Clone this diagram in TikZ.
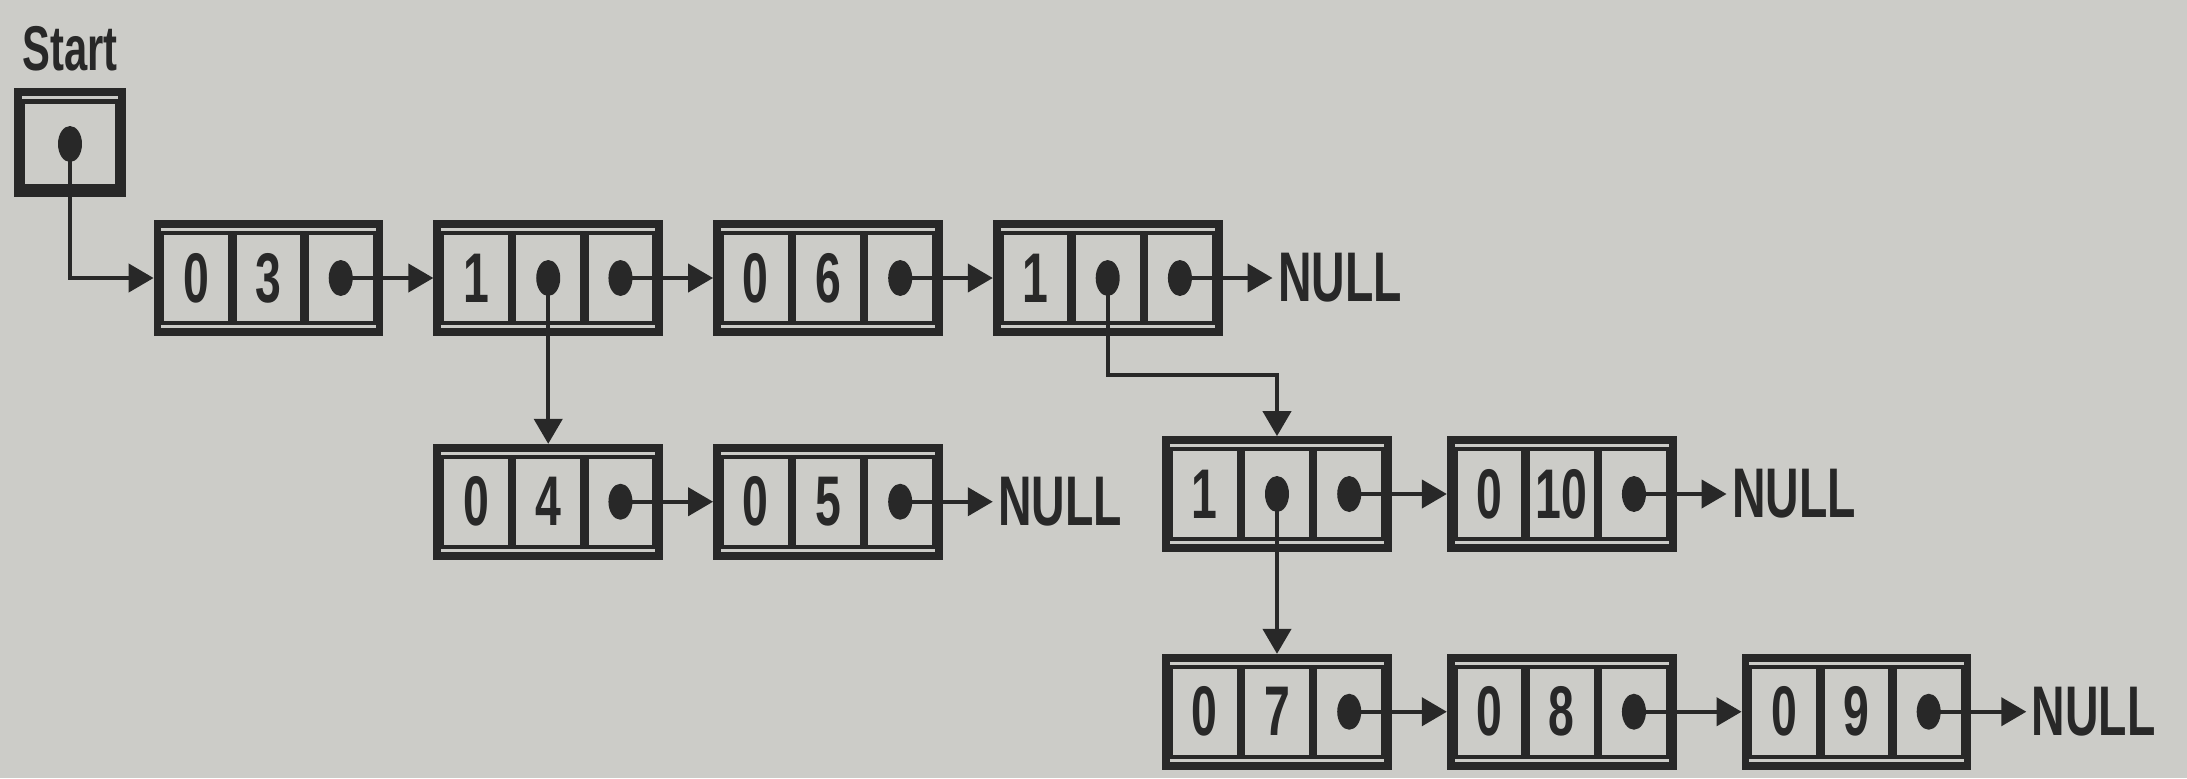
\documentclass[tikz,border=0pt]{standalone}
\usepackage{fontspec}
\setmainfont{Liberation Sans}[FakeStretch=0.66]
\usetikzlibrary{positioning,arrows.meta}

\definecolor{paper}{RGB}{204,204,200}
\definecolor{ink}{RGB}{40,40,40}

% tag, value and link field of one list node
\newcommand{\fields}[3]{%
  \node[field] (#1b) at (#1) {#3};
  \node[field] (#1a) [left=0cm of #1b] {#2};
  \node[field] (#1c) [right=0cm of #1b] {};
  \fill (#1c) ellipse (0.12 and 0.18);
}
\newcommand{\down}[1]{\fill (#1b) ellipse (0.12 and 0.18);}

\begin{document}
\begin{tikzpicture}[node distance=0.5cm, color=ink, line width=1.2pt,
    font=\fontsize{20}{24}\selectfont\bfseries,
    main/.style = {draw, minimum width=2.22cm, minimum height=1.08cm, line width=2.2pt},
    field/.style = {draw, minimum width=0.68cm, minimum height=0.9cm, inner sep=0pt},
    tail/.style = {inner sep=1pt},
    link/.style = {-{Triangle[length=0.25cm,width=0.28cm]}}]
\fill[paper] (0,0) rectangle (21.87,7.78);
\useasboundingbox (0,0) rectangle (21.87,7.78);

% start pointer
\node[anchor=base, font=\fontsize{18}{22}\selectfont\bfseries] (start) at (0.70,7.08) {Start};
\node[main, minimum width=1.04cm, minimum height=1.01cm] (0) at (0.70,6.355) {};
\node[field, minimum width=0.94cm, minimum height=0.85cm] (0a) at (0.70,6.34) {};
\fill (0a) ellipse (0.12 and 0.18);

% top list
\node[main] (1) at (2.685,5.00) {};
\node[main] (2) [right=of 1] {};
\node[main] (3) [right=of 2] {};
\node[main] (4) [right=of 3] {};
\node[tail] (n4) [right=of 4] {NULL};

% sublists
\node[main] (5) [below=1.08cm of 2] {};
\node[main] (6) [right=of 5] {};
\node[tail] (n6) [right=of 6] {NULL};
\node[main] (7) at (12.77,2.84) {};
\node[main] (8) [right=0.55cm of 7] {};
\node[tail] (n8) [right=of 8] {NULL};
\node[main] (9) [below=1.02cm of 7] {};
\node[main] (10) [right=0.55cm of 9] {};
\node[main] (11) [right=0.65cm of 10] {};
\node[tail] (n11) [right=0.55cm of 11] {NULL};

\fields{1}{0}{3}
\fields{2}{1}{}  \down{2}
\fields{3}{0}{6}
\fields{4}{1}{}  \down{4}
\fields{5}{0}{4}
\fields{6}{0}{5}
\fields{7}{1}{}  \down{7}
\fields{8}{0}{10}
\fields{9}{0}{7}
\fields{10}{0}{8}
\fields{11}{0}{9}

\coordinate[below=0.5cm of 4b] (turn);

\draw[link] (0a.center) |- (1.west);
\draw[link] (1c.center) -- (2.west);
\draw[link] (2c.center) -- (3.west);
\draw[link] (3c.center) -- (4.west);
\draw[link] (4c.center) -- (n4.west);
\draw[link] (2b.center) -- (5.north);
\draw[link] (5c.center) -- (6.west);
\draw[link] (6c.center) -- (n6.west);
\draw[link] (4b.center) -- (turn) -| (7.north);
\draw[link] (7c.center) -- (8.west);
\draw[link] (8c.center) -- (n8.west);
\draw[link] (7b.center) -- (9.north);
\draw[link] (9c.center) -- (10.west);
\draw[link] (10c.center) -- (11.west);
\draw[link] (11c.center) -- (n11.west);
\end{tikzpicture}
\end{document}
